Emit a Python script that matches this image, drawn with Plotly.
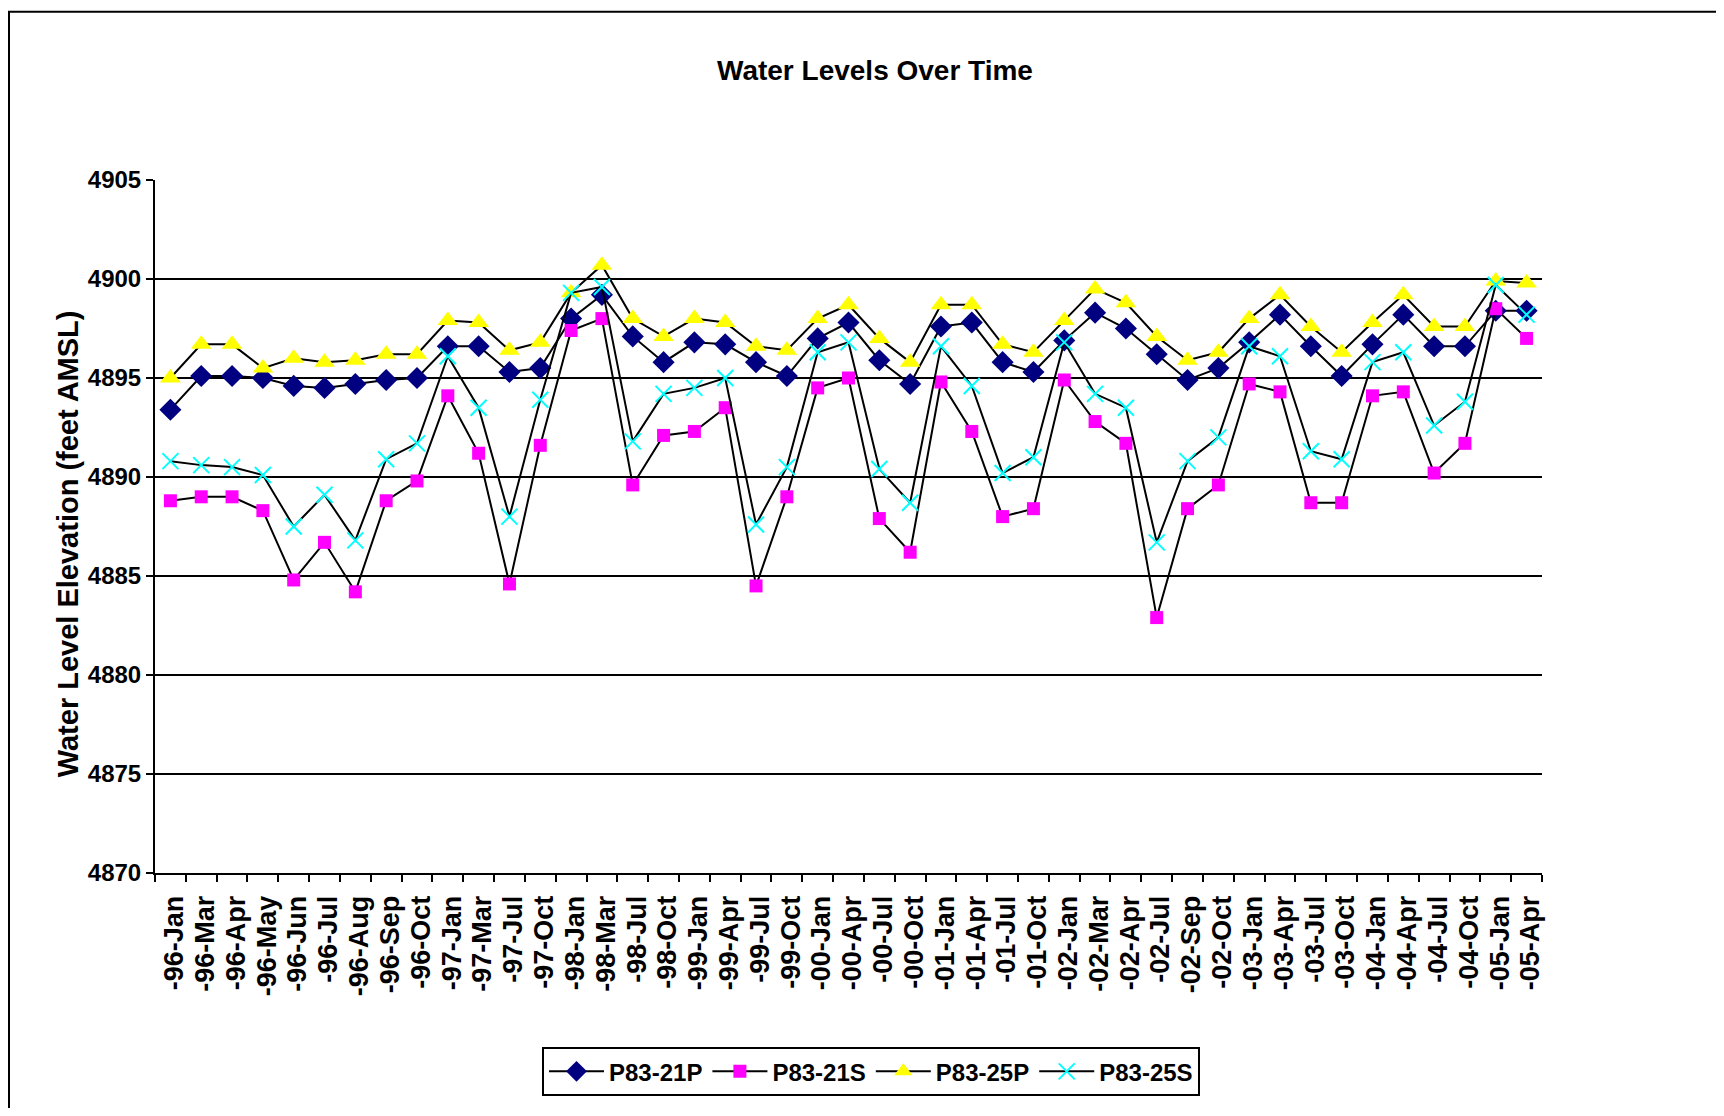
import plotly.graph_objects as go

categories = ["-96-Jan", "-96-Mar", "-96-Apr", "-96-May", "-96-Jun", "-96-Jul", "-96-Aug", "-96-Sep",
              "-96-Oct", "-97-Jan", "-97-Mar", "-97-Jul", "-97-Oct", "-98-Jan", "-98-Mar", "-98-Jul",
              "-98-Oct", "-99-Jan", "-99-Apr", "-99-Jul", "-99-Oct", "-00-Jan", "-00-Apr", "-00-Jul",
              "-00-Oct", "-01-Jan", "-01-Apr", "-01-Jul", "-01-Oct", "-02-Jan", "-02-Mar", "-02-Apr",
              "-02-Jul", "-02-Sep", "-02-Oct", "-03-Jan", "-03-Apr", "-03-Jul", "-03-Oct", "-04-Jan",
              "-04-Apr", "-04-Jul", "-04-Oct", "-05-Jan", "-05-Apr"]

p83_21p = [4893.4, 4895.1, 4895.1, 4895.0, 4894.6, 4894.5, 4894.7, 4894.9, 4895.0, 4896.6,
           4896.6, 4895.3, 4895.5, 4898.0, 4899.2, 4897.1, 4895.8, 4896.8, 4896.7, 4895.8,
           4895.1, 4897.0, 4897.8, 4895.9, 4894.7, 4897.6, 4897.8, 4895.8, 4895.3, 4896.9,
           4898.3, 4897.5, 4896.2, 4894.9, 4895.5, 4896.8, 4898.2, 4896.6, 4895.1, 4896.7,
           4898.2, 4896.6, 4896.6, 4898.4, 4898.4]
p83_21s = [4888.8, 4889.0, 4889.0, 4888.3, 4884.8, 4886.7, 4884.2, 4888.8, 4889.8, 4894.1,
           4891.2, 4884.6, 4891.6, 4897.4, 4898.0, 4889.6, 4892.1, 4892.3, 4893.5, 4884.5,
           4889.0, 4894.5, 4895.0, 4887.9, 4886.2, 4894.8, 4892.3, 4888.0, 4888.4, 4894.9,
           4892.8, 4891.7, 4882.9, 4888.4, 4889.6, 4894.7, 4894.3, 4888.7, 4888.7, 4894.1,
           4894.3, 4890.2, 4891.7, 4898.5, 4897.0]
p83_25p = [4895.0, 4896.7, 4896.7, 4895.5, 4896.0, 4895.8, 4895.9, 4896.2, 4896.2, 4897.9,
           4897.8, 4896.4, 4896.8, 4899.3, 4900.7, 4898.0, 4897.1, 4898.0, 4897.8, 4896.6,
           4896.4, 4898.0, 4898.7, 4897.0, 4895.8, 4898.7, 4898.7, 4896.7, 4896.3, 4897.9,
           4899.5, 4898.8, 4897.1, 4895.9, 4896.3, 4898.0, 4899.2, 4897.6, 4896.3, 4897.8,
           4899.2, 4897.6, 4897.6, 4899.9, 4899.8]
p83_25s = [4890.8, 4890.6, 4890.5, 4890.1, 4887.5, 4889.1, 4886.8, 4890.9, 4891.7, 4896.1,
           4893.5, 4888.0, 4893.9, 4899.3, 4899.6, 4891.8, 4894.2, 4894.5, 4895.0, 4887.6,
           4890.5, 4896.3, 4896.8, 4890.4, 4888.7, 4896.6, 4894.6, 4890.2, 4891.0, 4896.8,
           4894.2, 4893.5, 4886.7, 4890.8, 4892.0, 4896.6, 4896.1, 4891.3, 4890.9, 4895.8,
           4896.3, 4892.6, 4893.8, 4899.7, 4898.2]

y_ticks = [4870, 4875, 4880, 4885, 4890, 4895, 4900, 4905]

FONT = "Liberation Sans, Arial, sans-serif"

fig = go.Figure()
fig.add_trace(go.Scatter(x=categories, y=p83_21p, name="P83-21P", mode="lines+markers",
                         line=dict(color="black", width=2),
                         marker=dict(symbol="diamond", size=17, color="#000080",
                                     line=dict(width=0))))
fig.add_trace(go.Scatter(x=categories, y=p83_21s, name="P83-21S", mode="lines+markers",
                         line=dict(color="black", width=2),
                         marker=dict(symbol="square", size=13, color="#FF00FF",
                                     line=dict(width=0))))
fig.add_trace(go.Scatter(x=categories, y=p83_25p, name="P83-25P", mode="lines+markers",
                         line=dict(color="black", width=2),
                         marker=dict(symbol="triangle-up", size=18, color="#FFFF00",
                                     line=dict(width=0))))
fig.add_trace(go.Scatter(x=categories, y=p83_25s, name="P83-25S", mode="lines+markers",
                         line=dict(color="black", width=2),
                         marker=dict(symbol="x-thin", size=16, color="#00FFFF",
                                     line=dict(width=2, color="#00FFFF"))))

# page has an 8px body margin; work in screen coordinates and convert
OFF = 8
W, H = 1724 - 2 * OFF, 1116 - 2 * OFF
L, R, T, B = 155, 1542, 180, 880  # plot area in screen px
pw, ph = R - L, B - T

def px(x):
    return (x - L) / pw

def py(y):
    return (B - y) / ph

fig.update_layout(
    width=W, height=H,
    margin=dict(l=L - OFF, r=W - (R - OFF), t=T - OFF, b=H - (B - OFF), pad=0),
    paper_bgcolor="white", plot_bgcolor="white",
    font=dict(family=FONT, color="black", size=22, weight="bold"),
    showlegend=True,
    legend=dict(orientation="h", x=px(871), xanchor="center", y=py(1056), yanchor="top",
                bordercolor="black", borderwidth=2, bgcolor="white",
                font=dict(family=FONT, size=24, color="black", weight="bold"),
                itemwidth=55, tracegroupgap=0),
    xaxis=dict(type="category", range=[-0.5, len(categories) - 0.5],
               tickmode="linear", tick0=0, dtick=1,
               tickangle=-90, tickson="boundaries", ticks="outside", ticklen=7,
               tickwidth=2, tickcolor="black", showgrid=False,
               ticklabelstandoff=10, ticklabelshift=4,
               showline=True, linecolor="black", linewidth=2,
               tickfont=dict(family=FONT, size=27, color="black", weight="bold")),
    yaxis=dict(range=[4870, 4905], tickvals=y_ticks, ticks="outside", ticklen=7,
               tickwidth=2, tickcolor="black", showgrid=True, gridcolor="black",
               gridwidth=2, showline=True, linecolor="black", linewidth=2,
               zeroline=False,
               tickfont=dict(family=FONT, size=24, color="black", weight="bold")),
)

fig.add_annotation(text="Water Levels Over Time", xref="paper", yref="paper",
                   x=px(875), y=py(69), xanchor="center", yanchor="middle", showarrow=False,
                   font=dict(family=FONT, size=28, color="black", weight="bold"))
fig.add_annotation(text="Water Level Elevation (feet AMSL)", xref="paper", yref="paper",
                   x=px(68), y=py(548), xanchor="center", yanchor="middle", showarrow=False,
                   textangle=-90,
                   font=dict(family=FONT, size=29, color="black", weight="bold"))

# chart area border (extends beyond the visible frame on right/bottom)
fig.add_shape(type="rect", xref="paper", yref="paper",
              x0=px(9), x1=px(1760), y0=py(1150), y1=py(10),
              line=dict(color="black", width=2), fillcolor="rgba(0,0,0,0)", layer="below")

fig.write_html("out.html")
